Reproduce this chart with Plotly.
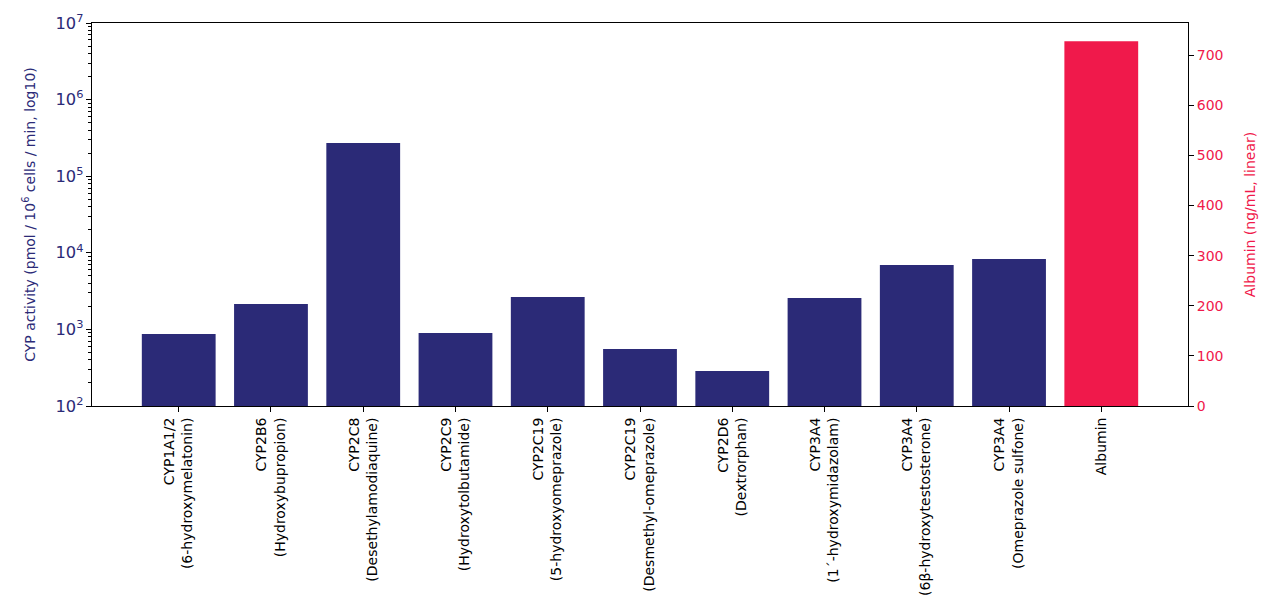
import plotly.graph_objects as go

categories = [
    "CYP1A1/2<br>(6-hydroxymelatonin)",
    "CYP2B6<br>(Hydroxybupropion)",
    "CYP2C8<br>(Desethylamodiaquine)",
    "CYP2C9<br>(Hydroxytolbutamide)",
    "CYP2C19<br>(5-hydroxyomeprazole)",
    "CYP2C19<br>(Desmethyl-omeprazole)",
    "CYP2D6<br>(Dextrorphan)",
    "CYP3A4<br>(1´-hydroxymidazolam)",
    "CYP3A4<br>(6β-hydroxytestosterone)",
    "CYP3A4<br>(Omeprazole sulfone)",
    "Albumin",
]
cyp_values = [870, 2150, 272000, 900, 2650, 555, 286, 2575, 6950, 8320]
albumin_values = [728]

NAVY = "#2B2A77"
RED = "#F0194B"
FONT = "DejaVu Sans"

fig = go.Figure()
fig.add_trace(go.Bar(x=categories[:10], y=cyp_values, marker_color=NAVY,
                     marker_line_width=0, width=0.8, yaxis="y", showlegend=False))
fig.add_trace(go.Bar(x=categories[10:], y=albumin_values, marker_color=RED,
                     marker_line_width=0, width=0.8, yaxis="y2", showlegend=False))

fig.update_layout(
    width=1280, height=612,
    margin=dict(l=84, r=100, t=15, b=214, autoexpand=False),
    paper_bgcolor="white", plot_bgcolor="white",
    barmode="overlay",
    font=dict(family=FONT, size=14, color="black"),
    xaxis=dict(
        type="category", categoryorder="array", categoryarray=categories,
        range=[-0.94, 10.94], tickangle=-90,
        showline=True, linecolor="black", linewidth=1, mirror=True,
        ticks="outside", ticklen=5, tickcolor="black", showgrid=False,
        tickfont=dict(family=FONT, size=14, color="black"),
    ),
    yaxis=dict(
        type="log", range=[2, 7], dtick=1, exponentformat="power",
        showline=True, linecolor="black", linewidth=1,
        ticks="outside", ticklen=5, tickcolor="black", showgrid=False,
        tickfont=dict(family=FONT, size=13, color=NAVY),
        minor=dict(ticks="outside", ticklen=3, tickcolor="black", dtick="D1", showgrid=False),
        title=dict(text="CYP activity (pmol / 10<sup>6</sup> cells / min, log10)",
                   font=dict(family=FONT, size=14, color=NAVY), standoff=16),
        zeroline=False,
    ),
    yaxis2=dict(
        overlaying="y", side="right", range=[0, 764.4], dtick=100,
        showline=True, linecolor="black", linewidth=1,
        ticks="outside", ticklen=5, tickcolor="black", showgrid=False,
        tickfont=dict(family=FONT, size=14, color=RED),
        title=dict(text="Albumin (ng/mL, linear)",
                   font=dict(family=FONT, size=14, color=RED), standoff=22),
        zeroline=False,
    ),
)

fig.write_html("out.html")
